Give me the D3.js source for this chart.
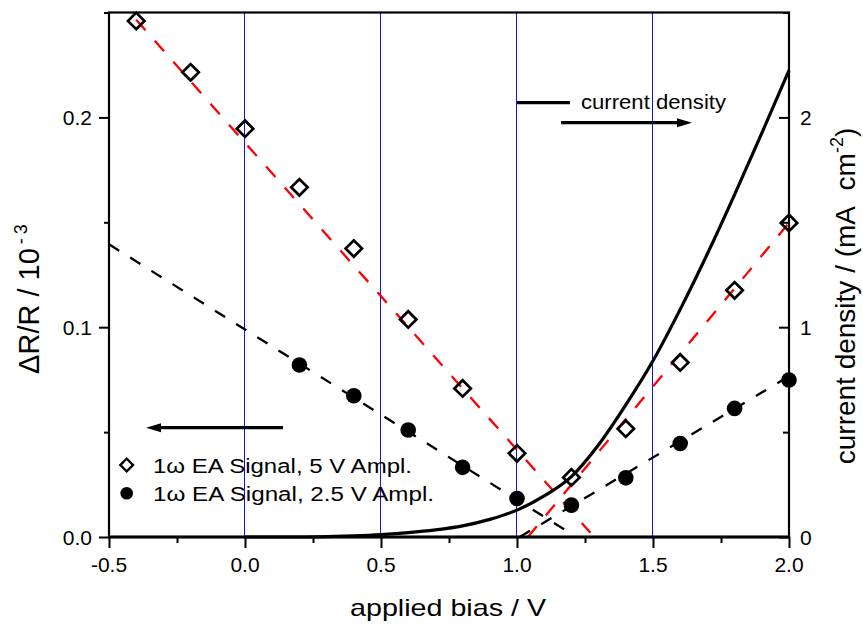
<!DOCTYPE html>
<html><head><meta charset="utf-8">
<script src="https://cdn.jsdelivr.net/npm/d3@7"></script>
<style>body{margin:0;background:#fff} svg{display:block} text{font-family:"Liberation Sans", Arial, Helvetica, sans-serif; fill:#000}</style>
</head><body><svg id="c" width="863" height="628"></svg>
<script>
// ---- data ----
const biasHigh = [-0.4, -0.2, 0.0, 0.2, 0.4, 0.6, 0.8, 1.0, 1.2, 1.4, 1.6, 1.8, 2.0];
const signalHigh = [0.246, 0.2215, 0.1946, 0.1667, 0.1375, 0.1037, 0.0708, 0.0399, 0.0284, 0.0516, 0.0832, 0.1176, 0.1497];
const biasLow = [0.2, 0.4, 0.6, 0.8, 1.0, 1.2, 1.4, 1.6, 1.8, 2.0];
const signalLow = [0.082, 0.0673, 0.051, 0.0332, 0.0183, 0.0152, 0.0282, 0.0446, 0.0613, 0.0748];
const fitHighDownX = [-0.4, 1.27], fitHighDownY = [0.2465, 0.002];
const fitHighUpX = [1.04, 2.0], fitHighUpY = [0.0, 0.1497];
const fitLowDownX = [-0.5, 1.2], fitLowDownY = [0.1395, 0.0015];
const fitLowUpX = [1.01, 2.0], fitLowUpY = [0.0, 0.0766];
const biasCurrent = [0.0, 0.2, 0.3, 0.4, 0.5, 0.6, 0.7, 0.8, 0.9, 1.0, 1.1, 1.2, 1.3, 1.4, 1.5, 1.6, 1.7, 1.8, 1.9, 2.0];
const currentDensity = [0.0, 0.0, 0.002, 0.006, 0.012, 0.021, 0.034, 0.053, 0.084, 0.128, 0.196, 0.288, 0.44, 0.63, 0.84, 1.085, 1.35, 1.632, 1.925, 2.225];
const gridBias = [0.0, 0.5, 1.0, 1.5];
const xMajor = [-0.5, 0.0, 0.5, 1.0, 1.5, 2.0];
const xMajorLabels = ["-0.5", "0.0", "0.5", "1.0", "1.5", "2.0"];
const xMinor = [-0.25, 0.25, 0.75, 1.25, 1.75];
const yLeftMajor = [0.0, 0.1, 0.2];
const yLeftLabels = ["0.0", "0.1", "0.2"];
const yLeftMinor = [0.05, 0.15, 0.25];
const yRightMajor = [0, 1, 2];
const yRightLabels = ["0", "1", "2"];
const yRightMinor = [0.5, 1.5, 2.5];
const legendLabels = ["1\u03c9 EA Signal, 5 V Ampl.", "1\u03c9 EA Signal, 2.5 V Ampl."];

// ---- layout ----
const L = 109, R = 789, T = 12.5, B = 537;
const svg = d3.select("#c");
const x = d3.scaleLinear().domain([-0.5, 2.0]).range([L, R]);
const yL = d3.scaleLinear().domain([0, 0.25]).range([B, T]);
const yR = d3.scaleLinear().domain([0, 2.5]).range([B, T]);

// grid
svg.append("g").selectAll("line").data(gridBias).join("line")
  .attr("x1", d => Math.round(x(d)) - 0.5).attr("x2", d => Math.round(x(d)) - 0.5).attr("y1", T).attr("y2", B)
  .attr("stroke", "#1010ff").attr("stroke-width", 1);

// fit lines
function fit(xs, ys, color, dash) {
  const pts = xs.map((v, i) => [v, ys[i]]);
  svg.append("path").datum(pts)
    .attr("d", d3.line().x(d => x(d[0])).y(d => yL(d[1])))
    .attr("fill", "none").attr("stroke", color).attr("stroke-width", 2.3)
    .attr("stroke-dasharray", dash);
}
fit(fitHighDownX, fitHighDownY, "#ff0000", "14,14");
fit(fitHighUpX, fitHighUpY, "#ff0000", "14,14");
fit(fitLowDownX, fitLowDownY, "#000", "12,13");
fit(fitLowUpX, fitLowUpY, "#000", "12,13");

// current density
svg.append("path").datum(biasCurrent.map((v, i) => [v, currentDensity[i]]))
  .attr("d", d3.line().x(d => x(d[0])).y(d => yR(d[1])).curve(d3.curveMonotoneX))
  .attr("fill", "none").attr("stroke", "#000").attr("stroke-width", 3.2);

// markers
const diamond = d3.symbol().type(d3.symbolSquare).size(135);
svg.append("g").selectAll("path").data(biasHigh.map((v, i) => [v, signalHigh[i]])).join("path")
  .attr("d", diamond)
  .attr("transform", d => `translate(${x(d[0])},${yL(d[1])}) rotate(45)`)
  .attr("fill", "none").attr("stroke", "#000").attr("stroke-width", 2.7);
svg.append("g").selectAll("circle").data(biasLow.map((v, i) => [v, signalLow[i]])).join("circle")
  .attr("cx", d => x(d[0])).attr("cy", d => yL(d[1])).attr("r", 7.8).attr("fill", "#000");

// frame
svg.append("rect").attr("x", L).attr("y", T).attr("width", R - L).attr("height", B - T)
  .attr("fill", "none").attr("stroke", "#000").attr("stroke-width", 2.2);
svg.append("line").attr("x1", L - 1).attr("x2", R + 1).attr("y1", B).attr("y2", B)
  .attr("stroke", "#000").attr("stroke-width", 3);

// axes
function styleAxis(g) { g.select(".domain").remove(); g.selectAll("line").attr("stroke", "#000").attr("stroke-width", 2); g.selectAll("text").remove(); }
svg.append("g").attr("transform", `translate(0,${B})`).call(d3.axisBottom(x).tickValues(xMajor).tickSize(11)).call(styleAxis);
svg.append("g").attr("transform", `translate(0,${B})`).call(d3.axisBottom(x).tickValues(xMinor).tickSize(6)).call(styleAxis);
svg.append("g").attr("transform", `translate(${L},0)`).call(d3.axisLeft(yL).tickValues(yLeftMajor).tickSize(10)).call(styleAxis);
svg.append("g").attr("transform", `translate(${L},0)`).call(d3.axisLeft(yL).tickValues(yLeftMinor).tickSize(5)).call(styleAxis);
svg.append("g").attr("transform", `translate(${R},0)`).call(d3.axisLeft(yR).tickValues(yRightMajor).tickSize(10)).call(styleAxis);
svg.append("g").attr("transform", `translate(${R},0)`).call(d3.axisLeft(yR).tickValues(yRightMinor).tickSize(6)).call(styleAxis);

// tick labels
svg.append("g").selectAll("text").data(xMajor).join("text")
  .attr("x", d => x(d)).attr("y", 572).attr("text-anchor", "middle").attr("font-size", 21)
  .text((d, i) => xMajorLabels[i]);
svg.append("g").selectAll("text").data(yLeftMajor).join("text")
  .attr("x", 92).attr("y", d => yL(d) + 7.5).attr("text-anchor", "end").attr("font-size", 21)
  .text((d, i) => yLeftLabels[i]);
svg.append("g").selectAll("text").data(yRightMajor).join("text")
  .attr("x", 800).attr("y", d => yR(d) + 7.5).attr("text-anchor", "start").attr("font-size", 21)
  .text((d, i) => yRightLabels[i]);

// axis titles
svg.append("text").attr("x", 448).attr("y", 616).attr("text-anchor", "middle")
  .attr("font-size", 24).attr("textLength", 196).attr("lengthAdjust", "spacingAndGlyphs")
  .text("applied bias / V");
const lt = svg.append("text").attr("transform", "translate(39,299) rotate(-90)")
  .attr("text-anchor", "middle").attr("font-size", 29);
lt.append("tspan").text("\u0394R/R / 10");
lt.append("tspan").attr("dx", 4).attr("dy", -12).attr("font-size", 18).text("-");
lt.append("tspan").attr("dx", 4).attr("font-size", 18).text("3");
const rt = svg.append("text").attr("transform", "translate(855,296) rotate(-90)")
  .attr("text-anchor", "middle").attr("font-size", 28);
rt.append("tspan").text("current density / (mA\u00a0\u00a0cm");
rt.append("tspan").attr("dy", -12).attr("font-size", 18).text("-2");
rt.append("tspan").attr("dy", 12).text(")");

// legend
svg.append("path").attr("d", d3.symbol().type(d3.symbolSquare).size(80))
  .attr("transform", "translate(126.7,465) rotate(45)")
  .attr("fill", "none").attr("stroke", "#000").attr("stroke-width", 2.4);
svg.append("circle").attr("cx", 126.7).attr("cy", 493.3).attr("r", 6.3).attr("fill", "#000");
svg.append("text").attr("x", 153).attr("y", 472.5).attr("font-size", 20)
  .attr("textLength", 259).attr("lengthAdjust", "spacingAndGlyphs").text(legendLabels[0]);
svg.append("text").attr("x", 153).attr("y", 500.5).attr("font-size", 20)
  .attr("textLength", 281).attr("lengthAdjust", "spacingAndGlyphs").text(legendLabels[1]);

// current density annotation
svg.append("line").attr("x1", 517).attr("x2", 570).attr("y1", 102.7).attr("y2", 102.7)
  .attr("stroke", "#000").attr("stroke-width", 3.2);
svg.append("text").attr("x", 581).attr("y", 108.5).attr("font-size", 20)
  .attr("textLength", 145).attr("lengthAdjust", "spacingAndGlyphs").text("current density");

// arrows
function arrow(x1, x2, yy) {
  const dir = Math.sign(x2 - x1);
  svg.append("line").attr("x1", x1).attr("x2", x2 - dir * 10).attr("y1", yy).attr("y2", yy)
    .attr("stroke", "#000").attr("stroke-width", 3.2);
  svg.append("path").attr("d", `M${x2},${yy} L${x2 - dir * 15},${yy - 4.5} L${x2 - dir * 15},${yy + 4.5} Z`).attr("fill", "#000");
}
arrow(283, 146, 427.7);
arrow(561, 692, 122.7);
</script></body></html>
